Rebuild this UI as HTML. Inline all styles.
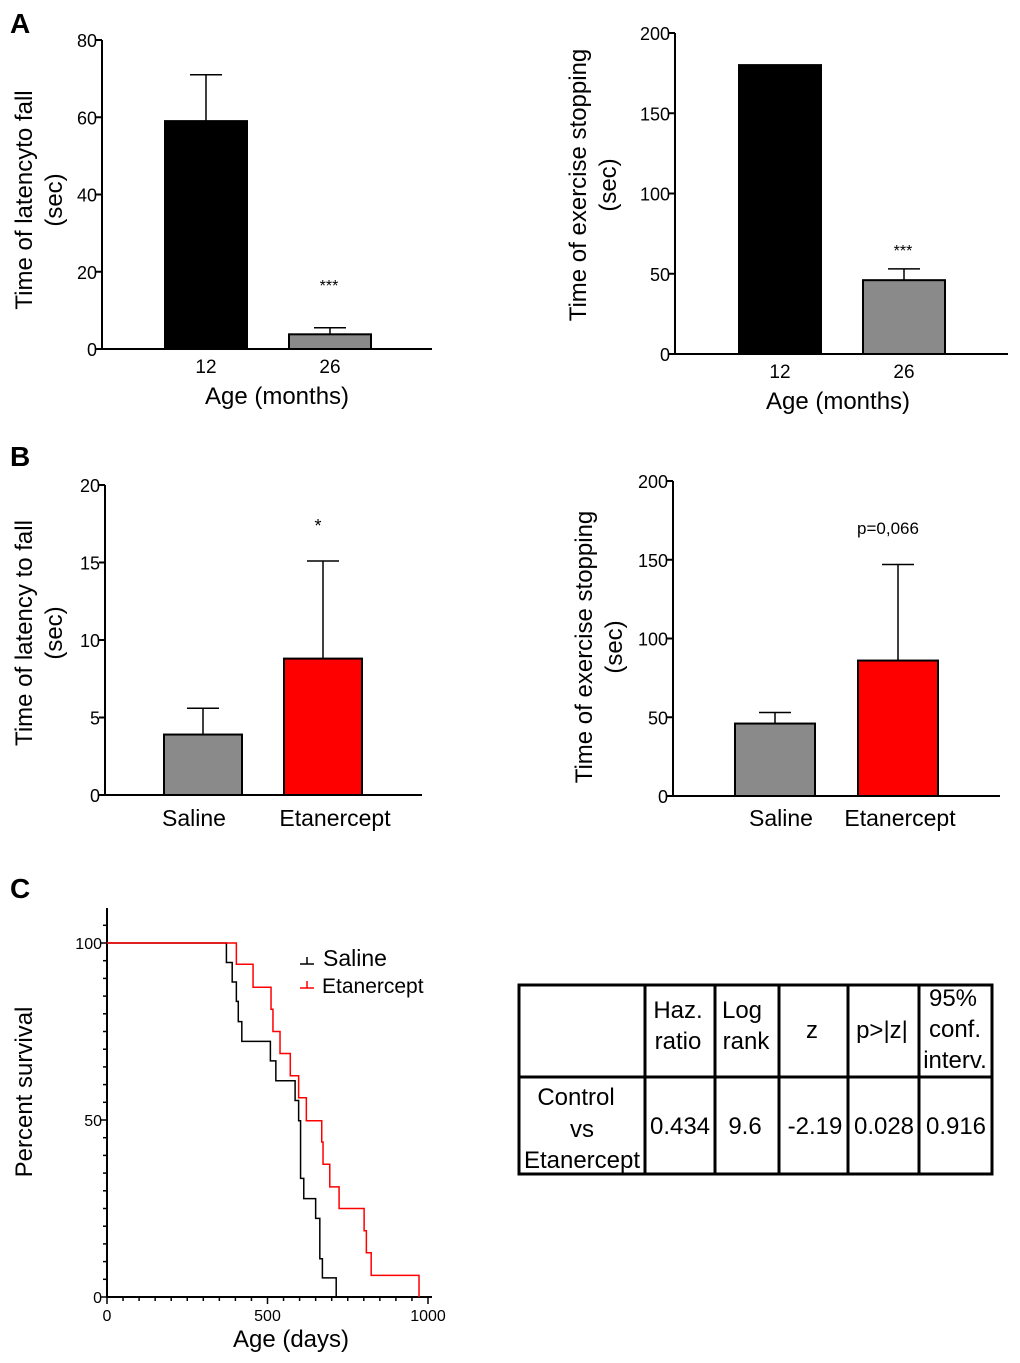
<!DOCTYPE html>
<html><head><meta charset="utf-8"><style>
html,body{margin:0;padding:0;background:#fff;}
svg{display:block;font-family:"Liberation Sans",Arial,sans-serif;}
</style></head><body>
<svg id="fig" width="1020" height="1363" viewBox="0 0 1020 1363" xmlns="http://www.w3.org/2000/svg">
<text x="10" y="33" font-size="28" font-weight="bold">A</text>
<text x="10" y="466" font-size="28" font-weight="bold">B</text>
<text x="10" y="898" font-size="28" font-weight="bold">C</text>
<g id="charts"></g>
<g id="survival"></g>
<g id="table">
<rect x="519" y="985" width="473" height="189" fill="none" stroke="#000" stroke-width="3"/>
<line x1="519" y1="1077" x2="992" y2="1077" stroke="#000" stroke-width="3"/>
<line x1="645" y1="985" x2="645" y2="1174" stroke="#000" stroke-width="3"/>
<line x1="715" y1="985" x2="715" y2="1174" stroke="#000" stroke-width="3"/>
<line x1="779" y1="985" x2="779" y2="1174" stroke="#000" stroke-width="3"/>
<line x1="848" y1="985" x2="848" y2="1174" stroke="#000" stroke-width="3"/>
<line x1="919" y1="985" x2="919" y2="1174" stroke="#000" stroke-width="3"/>
<g font-size="24" text-anchor="middle">
<text x="678" y="1018">Haz.</text><text x="678" y="1049">ratio</text>
<text x="742" y="1018">Log</text><text x="746" y="1049">rank</text>
<text x="812" y="1038">z</text>
<text x="882" y="1038">p&gt;|z|</text>
<text x="953" y="1006">95%</text><text x="955" y="1037">conf.</text><text x="955" y="1068">interv.</text>
<text x="576" y="1105">Control</text><text x="582" y="1137">vs</text><text x="582" y="1168">Etanercept</text>
<text x="680" y="1134">0.434</text><text x="745" y="1134">9.6</text><text x="815" y="1134">-2.19</text>
<text x="884" y="1134">0.028</text><text x="956" y="1134">0.916</text>
</g>
</g>
</svg>
<script>
// ---- bar chart data ----
const catsA = ["12","26"];
const latencyA = [59, 3.8];
const latencyAErr = [71, 5.5];
const exerciseA = [180, 46];
const exerciseAErr = [180, 53];
const catsB = ["Saline","Etanercept"];
const latencyB = [3.9, 8.8];
const latencyBErr = [5.6, 15.1];
const exerciseB = [46, 86];
const exerciseBErr = [53, 147];
const ticksA1 = [0,20,40,60,80];
const ticksA2 = [0,50,100,150,200];
const ticksB1 = [0,5,10,15,20];
const ticksB2 = [0,50,100,150,200];
// ---- survival data (days, percent) ----
const salineDays = [0,372,390,403,409,420,509,526,586,597,603,613,650,663,671,714];
const salinePct  = [100,94.5,89,83.5,77.8,72.2,66.7,61.1,55.5,49.8,33.5,27.8,22.2,10.8,5.4,0];
const etanDays = [0,403,455,511,517,539,571,597,621,669,673,694,723,801,808,823,972];
const etanPct  = [100,94,87.5,81.3,75,68.8,62.5,56.3,49.8,43.8,37.5,31.1,25,18.7,12.5,6.1,0];

const NS="http://www.w3.org/2000/svg";
function mk(tag, attrs, parent, txt){
  const e=document.createElementNS(NS,tag);
  for(const k in attrs) e.setAttribute(k,attrs[k]);
  if(txt!==undefined) e.textContent=txt;
  parent.appendChild(e); return e;
}
const charts=document.getElementById('charts');

function barChart(cfg){
  const g=mk('g',{},charts);
  
  
  const y=v=>cfg.y0-(v/cfg.max)*(cfg.y0-cfg.yTop);
  const ya=mk('line',{x1:cfg.ax,y1:cfg.yTop,x2:cfg.ax,y2:cfg.y0,stroke:'#000','stroke-width':2},g);
  
  
  const xa=mk('line',{x1:cfg.ax,y1:cfg.y0,x2:cfg.xEnd,y2:cfg.y0,stroke:'#000','stroke-width':2},g);
  
  
  cfg.ticks.forEach(t=>{
    mk('line',{x1:cfg.ax-6,y1:y(t),x2:cfg.ax,y2:y(t),stroke:'#000','stroke-width':2},g);
    const tl=mk('text',{x:cfg.ax-5,y:y(t)+7,'font-size':18,'text-anchor':'end'},g,t);
    
    
  });
  cfg.vals.forEach((v,i)=>{
    const x0=cfg.barX[i], w=cfg.barW;
    const cx=x0+w/2;
    const eT=y(cfg.err[i]);
    if(cfg.err[i]>v){
      mk('line',{x1:cx,y1:eT,x2:cx,y2:y(v),stroke:'#000','stroke-width':1.5},g);
      mk('line',{x1:cx-16,y1:eT,x2:cx+16,y2:eT,stroke:'#000','stroke-width':1.5},g);
    }
    const r=mk('rect',{x:x0,y:y(v),width:w,height:cfg.y0-y(v),fill:cfg.colors[i],stroke:'#000','stroke-width':2},g);
    
    
    const cl=mk('text',{x:cx+(cfg.catDx?cfg.catDx[i]:0),y:cfg.catY,'font-size':cfg.catSize,'text-anchor':'middle'},g,cfg.cats[i]);
    
    
  });
  if(cfg.xTitle){
    const xt=mk('text',{x:cfg.xTitleX,y:cfg.xTitleY,'font-size':24,'text-anchor':'middle'},g,cfg.xTitle);
    
    
  }
  cfg.yTitle.forEach((t,k)=>{
    const tx=cfg.yTitleX+k*30;
    const yt=mk('text',{x:tx,y:cfg.yTitleY,'font-size':24,'text-anchor':'middle',transform:`rotate(-90 ${tx} ${cfg.yTitleY})`},g,t);
    
    
  });
  if(cfg.sig){
    const s=mk('text',{x:cfg.sig.x,y:cfg.sig.y,'font-size':cfg.sig.size,'text-anchor':'middle'},g,cfg.sig.t);
    
    
  }
}
barChart({name:'latency-age-chart',ax:102,xEnd:432,y0:349,yTop:40,max:80,ticks:ticksA1,cats:catsA,vals:latencyA,err:latencyAErr,
  barX:[165,289],barW:82,colors:['#000','#8a8a8a'],catY:373,catSize:19,xTitle:'Age (months)',xTitleX:277,xTitleY:404,
  yTitle:['Time of latencyto fall','(sec)'],yTitleX:32,yTitleY:200,sig:{x:329,y:291,t:'***',size:16}});
barChart({name:'exercise-age-chart',ax:675,xEnd:1008,y0:354,yTop:33,max:200,ticks:ticksA2,cats:catsA,vals:exerciseA,err:exerciseAErr,
  barX:[739,863],barW:82,colors:['#000','#8a8a8a'],catY:378,catSize:19,xTitle:'Age (months)',xTitleX:838,xTitleY:409,
  yTitle:['Time of exercise stopping','(sec)'],yTitleX:586,yTitleY:185,sig:{x:903,y:256,t:'***',size:16}});
barChart({name:'latency-treatment-chart',ax:105,xEnd:422,y0:795,yTop:485,max:20,ticks:ticksB1,cats:catsB,vals:latencyB,err:latencyBErr,
  barX:[164,284],barW:78,colors:['#8a8a8a','#ff0000'],catY:826,catSize:23,catDx:[-9,12],
  yTitle:['Time of latency to fall','(sec)'],yTitleX:32,yTitleY:633,sig:{x:318,y:532,t:'*',size:18}});
barChart({name:'exercise-treatment-chart',ax:673,xEnd:1000,y0:796,yTop:481,max:200,ticks:ticksB2,cats:catsB,vals:exerciseB,err:exerciseBErr,
  barX:[735,858],barW:80,colors:['#8a8a8a','#ff0000'],catY:826,catSize:23,catDx:[6,2],
  yTitle:['Time of exercise stopping','(sec)'],yTitleX:592,yTitleY:647,sig:{x:888,y:534,t:'p=0,066',size:17}});

// ---- survival ----
const sv=document.getElementById('survival');


const sx=d=>107+d/1000*321;
const sy=p=>1297-p/100*354;
mk('line',{x1:107,y1:908,x2:107,y2:1297,stroke:'#000','stroke-width':2},sv);
mk('line',{x1:107,y1:1297,x2:432,y2:1297,stroke:'#000','stroke-width':2},sv);
for(let p=0;p<=105;p+=5){const big=p%50===0;mk('line',{x1:big?100:103,y1:sy(p),x2:107,y2:sy(p),stroke:'#000','stroke-width':1.5},sv);}
for(let d=0;d<=1000;d+=50){const big=d%500===0;mk('line',{x1:sx(d),y1:1297,x2:sx(d),y2:big?1304:1301,stroke:'#000','stroke-width':1.5},sv);}
[0,50,100].forEach(p=>{const t=mk('text',{x:102,y:sy(p)+6,'font-size':16,'text-anchor':'end'},sv,p);});
[0,500,1000].forEach(d=>{const t=mk('text',{x:sx(d),y:1321,'font-size':16,'text-anchor':'middle'},sv,d);});
const yt=mk('text',{x:32,y:1092,'font-size':24,'text-anchor':'middle',transform:'rotate(-90 32 1092)'},sv,'Percent survival');


const xt=mk('text',{x:291,y:1347,'font-size':24,'text-anchor':'middle'},sv,'Age (days)');


function stepPath(days,pct){
  let d=`M${sx(days[0])},${sy(pct[0])}`;
  for(let i=1;i<days.length;i++){d+=` H${sx(days[i])} V${sy(pct[i])}`;}
  return d;
}
const ps=mk('path',{d:stepPath(salineDays,salinePct),fill:'none',stroke:'#000','stroke-width':1.5},sv);


const pe=mk('path',{d:stepPath(etanDays,etanPct),fill:'none',stroke:'#ff0000','stroke-width':1.5},sv);


const lg=mk('g',{},sv);


mk('path',{d:'M300,964 H314 M307,957 V964',stroke:'#000','stroke-width':1.5,fill:'none'},lg);
mk('text',{x:323,y:966,'font-size':23},lg,'Saline');
mk('path',{d:'M300,988 H314 M307,981 V988',stroke:'#ff0000','stroke-width':1.5,fill:'none'},lg);
mk('text',{x:322,y:993,'font-size':21},lg,'Etanercept');
</script>
</body></html>
